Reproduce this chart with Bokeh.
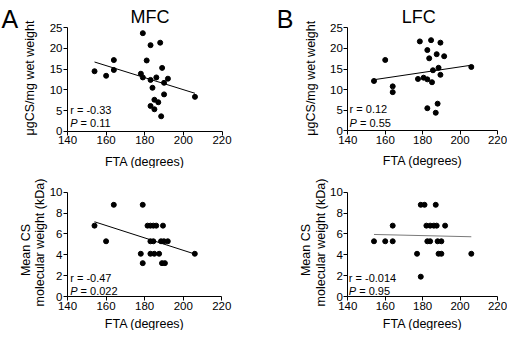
import numpy as np
from bokeh.plotting import figure
from bokeh.models import Label, FixedTicker, Range1d
from bokeh.layouts import gridplot
from bokeh.embed import file_html
from bokeh.resources import INLINE

FONT = "Liberation Sans"

# ---------------- data ----------------
x_ticks = [140, 160, 180, 200, 220]
cs_ticks = [0, 5, 10, 15, 20, 25]
mw_ticks = [0, 2, 4, 6, 8, 10]

mfc_cs_fta = [154, 160, 164, 164, 178, 179, 179, 181, 183, 183, 183, 184, 185, 185,
              186, 187, 188, 188.5, 189, 190, 190, 192, 206]
mfc_cs = [14.5, 13.4, 17.2, 14.8, 13.9, 23.7, 13.0, 17.1, 20.8, 12.4, 6.1, 10.5, 7.6, 5.3,
          13.0, 7.0, 21.4, 3.6, 15.3, 11.7, 8.9, 12.7, 8.3]

lfc_cs_fta = [154, 160, 164, 164, 177.5, 178.5, 180.5, 182.5, 182.5, 182.5, 183.5, 184.5,
              185, 185.5, 187, 187.5, 188, 188.5, 189.5, 189.5, 191.5, 206]
lfc_cs = [12.1, 17.2, 10.8, 9.4, 12.6, 21.7, 12.9, 19.6, 12.5, 5.5, 17.6, 22.0,
          11.8, 14.7, 4.4, 18.6, 6.6, 15.3, 21.4, 13.6, 18.1, 15.5]

mfc_mw_fta = [154, 160, 164, 178, 179, 179, 181.5, 183, 183, 183, 184.5, 184.5, 185, 186,
              187.5, 188.5, 189, 189.5, 190, 190.5, 192, 206]
mfc_mw = [6.8, 5.3, 8.8, 4.1, 8.8, 3.2, 6.8, 6.8, 5.3, 4.1, 6.8, 5.3, 4.1, 6.8,
          4.1, 5.3, 3.2, 6.8, 5.3, 3.2, 5.3, 4.1]

lfc_mw_fta = [154, 160, 164, 164, 177, 179, 179, 181, 182, 182.5, 184, 184, 186, 187,
              187.5, 188, 188.5, 190, 190, 192, 206]
lfc_mw = [5.3, 5.3, 6.8, 5.3, 4.1, 8.8, 1.9, 8.8, 6.8, 5.3, 6.8, 5.3, 6.8, 8.8,
          6.8, 5.3, 4.1, 5.3, 4.1, 6.8, 4.1]

r_texts = ["r = -0.33", "r = 0.12", "r = -0.47", "r = -0.014"]
p_texts = ["= 0.11", "= 0.55", "= 0.022", "= 0.95"]
titles = ["MFC", "LFC"]
letters = ["A", "B"]
x_label = "FTA (degrees)"
cs_label = "\u03bcgCS/mg wet weight"
mw_label_1 = "Mean CS"
mw_label_2 = "molecular weight  (kDa)"


def lab(p, x, y, text, size, align="left", baseline="alphabetic", angle=0.0, style="normal"):
    p.add_layout(Label(x=x, y=y, x_units="screen", y_units="screen", text=text,
                       text_font=FONT, text_font_size=f"{size}px", text_color="black",
                       text_align=align, text_baseline=baseline, angle=angle,
                       text_font_style=style))


def span(v0, v1, px0, px1, total):
    s = (px1 - px0) / (v1 - v0)
    return Range1d(v0 - px0 / s, v1 + (total - px1) / s)


def panel(xs, ys, yticks, W, H, ax_px, ax_end_px, ay_px, ay_end_px,
          r_text, p_text, r_y, p_y, r_x, line_color, xlab_dy):
    p = figure(width=W, height=H, min_border=0,
               x_range=span(x_ticks[0], x_ticks[-1], ax_px, ax_end_px, W),
               y_range=span(yticks[0], yticks[-1], ay_px, ay_end_px, H),
               output_backend="svg", toolbar_location=None, title=None)
    p.background_fill_color = "white"
    p.border_fill_color = "white"
    p.outline_line_color = None
    p.grid.visible = False
    xa_, ya_ = p.xaxis[0], p.yaxis[0]
    xa_.fixed_location = yticks[0]
    ya_.fixed_location = x_ticks[0]
    xa_.bounds = (x_ticks[0], x_ticks[-1])
    ya_.bounds = (yticks[0], yticks[-1])
    for ax in (xa_, ya_):
        ax.axis_line_color = "black"
        ax.axis_line_width = 1
        ax.major_tick_line_color = "black"
        ax.major_tick_in = 0
        ax.major_tick_out = 4
        ax.minor_tick_line_color = None
        ax.major_label_text_font = FONT
        ax.major_label_text_font_size = "11.5px"
        ax.major_label_text_color = "black"
        ax.major_label_standoff = 1
    xa_.ticker = FixedTicker(ticks=x_ticks)
    ya_.ticker = FixedTicker(ticks=yticks)

    xa = np.array(xs, dtype=float)
    ya = np.array(ys, dtype=float)
    k, b = np.polyfit(xa, ya, 1)
    lx = np.array([xa.min(), xa.max()])
    p.line(lx, k * lx + b, line_color=line_color, line_width=1)
    p.scatter(xs, ys, size=5, fill_color="black", line_color="black")

    lab(p, ax_px + r_x, ay_px + r_y, r_text, 11)
    lab(p, ax_px + r_x, ay_px + p_y, "P", 11, style="italic")
    lab(p, ax_px + r_x + 10.4, ay_px + p_y, p_text, 11)
    lab(p, (ax_px + ax_end_px) / 2, ay_px - xlab_dy, x_label, 12.5, align="center")
    return p


LW, RW, TH, BH = 249, 258, 168, 162
tl = panel(mfc_cs_fta, mfc_cs, cs_ticks, LW, TH, 67, 221.5, 37.3, 140.7,
           r_texts[0], p_texts[0], 21.5, 8.2, 2.7, "black", 30.3)
tr = panel(lfc_cs_fta, lfc_cs, cs_ticks, RW, TH, 98.3, 248, 37.6, 140.7,
           r_texts[1], p_texts[1], 21.8, 8.2, 1.8, "black", 30.3)
bl = panel(mfc_mw_fta, mfc_mw, mw_ticks, LW, BH, 67, 221.3, 34.0, 138.2,
           r_texts[2], p_texts[2], 19, 5.2, 2.7, "black", 27.0)
br = panel(lfc_mw_fta, lfc_mw, mw_ticks, RW, BH, 98.3, 248, 34.0, 138.2,
           r_texts[3], p_texts[3], 19, 5.2, 1.0, "#7a7a7a", 27.0)

# titles and panel letters
lab(tl, 67 + 82.5, 37.3 + 114, titles[0], 18, align="center")
lab(tr, 98.3 + 71, 37.6 + 114, titles[1], 18, align="center")
lab(tl, 67 - 66, 37.3 + 112.5, letters[0], 25)
lab(tr, 98.3 - 71, 37.6 + 112, letters[1], 25)

# y axis labels
lab(tl, 67 - 38, 89 + 1.5, cs_label, 12.5, align="center", baseline="middle", angle=np.pi / 2)
lab(tr, 98.3 - 37, 89 + 1.3, cs_label, 12.5, align="center", baseline="middle", angle=np.pi / 2)
for pp, x0, d1, d2 in ((bl, 67, -42, -28), (br, 98.3, -41.6, -26.6)):
    lab(pp, x0 + d1, 86 - 5.5, mw_label_1, 12.5, align="center", baseline="middle", angle=np.pi / 2)
    lab(pp, x0 + d2, 86 + 3.7, mw_label_2, 12.5, align="center", baseline="middle", angle=np.pi / 2)

grid = gridplot([[tl, tr], [bl, br]], toolbar_location=None)

open("out.html", "w").write(file_html(grid, INLINE))
